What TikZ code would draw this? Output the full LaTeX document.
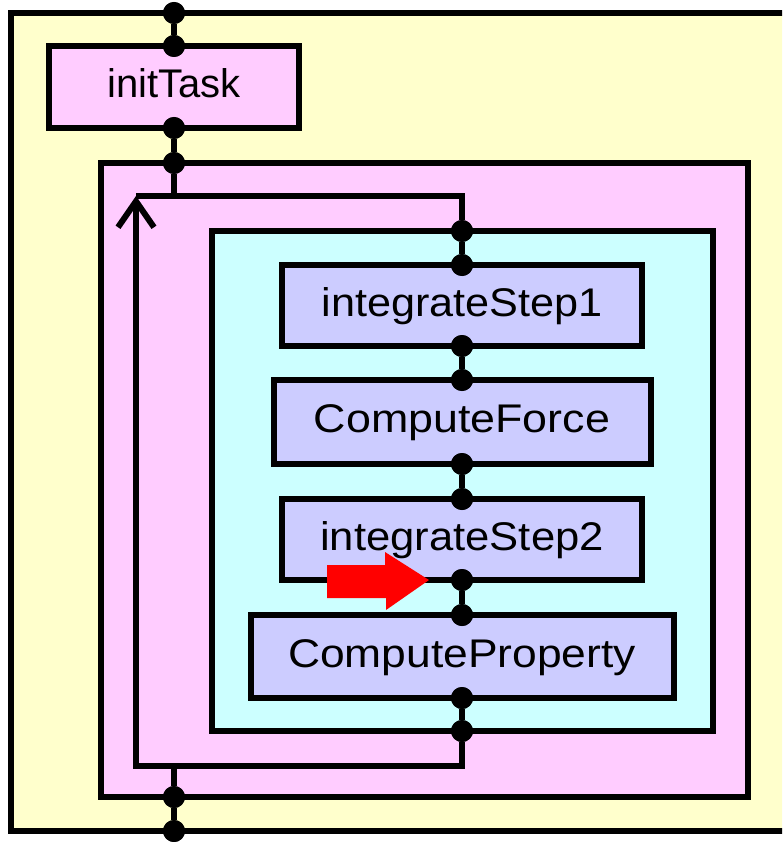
\documentclass[tikz,border=0pt]{standalone}
\usepackage{fontspec}
\setmainfont{Liberation Sans}
\usetikzlibrary{arrows.meta}
\definecolor{yelc}{RGB}{255,255,204}
\definecolor{pinkc}{RGB}{255,204,255}
\definecolor{cyanc}{RGB}{204,255,255}
\definecolor{lavc}{RGB}{204,204,255}
\begin{document}
\begin{tikzpicture}[x=1pt,y=-1pt,
  frame/.style={draw=black, line width=6pt, inner sep=0pt, outer sep=0pt},
  taskbox/.style={frame, fill=lavc, font=\fontsize{40}{45}\selectfont, text height=28pt, text depth=7pt},
  dot/.style={circle, fill=black, inner sep=0pt, minimum size=22pt},
  link/.style={draw=black, line width=6pt}]
\useasboundingbox (0,0) rectangle (782,842);
\clip (0,0) rectangle (782,842);
% containers
\node[frame, fill=yelc, minimum width=820pt, minimum height=818pt] (outer) at (421,422) {};
\node[taskbox, fill=pinkc, minimum width=250pt, minimum height=82pt] (init) at (174,87) {initTask};
\node[frame, fill=pinkc, minimum width=647pt, minimum height=634pt] (loopbox) at (424.5,480) {};
\node[frame, fill=cyanc, minimum width=501pt, minimum height=500pt] (inner) at (462.5,481) {};
% tasks
\node[taskbox, minimum width=360pt, minimum height=81pt] (s1) at (462,305.5) {\scalebox{1.08}[1]{integrateStep1}};
\node[taskbox, minimum width=377pt, minimum height=84pt] (cf) at (462,422) {\scalebox{1.12}[1]{ComputeForce}};
\node[taskbox, minimum width=360pt, minimum height=81pt] (s2) at (462,539.5) {\scalebox{1.09}[1]{integrateStep2}};
\node[taskbox, minimum width=423pt, minimum height=83pt] (cp) at (462,656.5) {\scalebox{1.11}[1]{ComputeProperty}};
% dots column A
\node[dot] (a1) at (init.north |- outer.north) {};
\node[dot] (a2) at (init.north) {};
\node[dot] (a3) at (init.south) {};
\node[dot] (a4) at (init.south |- loopbox.north) {};
\node[dot] (a5) at (init.south |- loopbox.south) {};
\node[dot] (a6) at (init.south |- outer.south) {};
% dots column B
\node[dot] (b1) at (s1.north |- inner.north) {};
\node[dot] (b2) at (s1.north) {};
\node[dot] (b3) at (s1.south) {};
\node[dot] (b4) at (cf.north) {};
\node[dot] (b5) at (cf.south) {};
\node[dot] (b6) at (s2.north) {};
\node[dot] (b7) at (s2.south) {};
\node[dot] (b8) at (cp.north) {};
\node[dot] (b9) at (cp.south) {};
\node[dot] (b10) at (cp.south |- inner.south) {};
% loop coordinates
\coordinate (lTL) at (136,196);
\coordinate (lTR) at (b1 |- lTL);
\coordinate (lBL) at (136,766);
\coordinate (lBR) at (b10 |- lBL);
\coordinate (aTop) at (a4 |- lTL);
\coordinate (aBot) at (a5 |- lBL);
% connectors
\draw[link] (a1) -- (a2);
\draw[link] (a3) -- (a4);
\draw[link] (a4) -- (aTop);
\draw[link] (aBot) -- (a5);
\draw[link] (a5) -- (a6);
\draw[link] (b1) -- (b2);
\draw[link] (b3) -- (b4);
\draw[link] (b5) -- (b6);
\draw[link] (b7) -- (b8);
\draw[link] (b9) -- (b10);
\draw[link, line cap=square] (lTL) -- (lTR) -- (b1);
\draw[link, -{Straight Barb[length=26pt,width=36pt]}] (b10) -- (lBR) -- (lBL) -- (lTL);
% redraw dots on top
\foreach \d in {a1,a2,a3,a4,a5,a6,b1,b2,b3,b4,b5,b6,b7,b8,b9,b10}
  \fill (\d) circle[radius=11pt];
% red marker arrow
\fill[red] (327,565) -- (385,565) -- (385,552) -- (429,580) -- (386,610) -- (386,598) -- (327,598) -- cycle;
\end{tikzpicture}
\end{document}
